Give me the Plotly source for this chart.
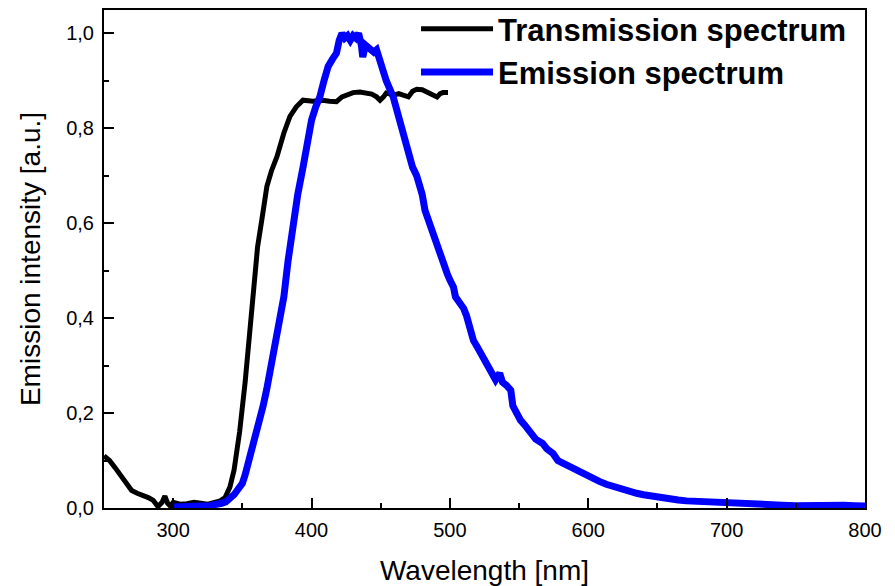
import plotly.graph_objects as go

# Transmission spectrum (wavelength nm, value)
trans_nm = [250, 254, 258, 262, 266, 270, 274, 278, 282, 285.6, 289, 292, 294, 296, 298, 300,
            305, 310, 315, 320, 325, 330, 334, 337.5, 339, 341, 344, 348, 352, 355.5, 358, 361,
            364, 367.7, 371, 375, 380, 384.4, 389, 393.8, 401, 408, 413, 418, 422, 425, 430,
            435, 440, 443.5, 447, 449.5, 452, 454, 457, 460, 463, 466, 470, 473, 476, 480, 483,
            487, 490.7, 493, 495, 498.6]
trans_val = [0.11, 0.10, 0.085, 0.068, 0.052, 0.037, 0.031, 0.027, 0.022, 0.016, 0.003, 0.012,
             0.025, 0.010, 0.004, 0.012, 0.008, 0.009, 0.012, 0.010, 0.008, 0.012, 0.015, 0.022,
             0.030, 0.044, 0.080, 0.160, 0.265, 0.370, 0.470, 0.550, 0.606, 0.677, 0.710, 0.740,
             0.790, 0.825, 0.845, 0.859, 0.857, 0.859, 0.857, 0.856, 0.866, 0.870, 0.875, 0.876,
             0.874, 0.872, 0.866, 0.859, 0.866, 0.874, 0.872, 0.870, 0.873, 0.870, 0.866, 0.878,
             0.882, 0.881, 0.877, 0.871, 0.866, 0.873, 0.875, 0.875]

# Emission spectrum (wavelength nm, value)
emis_nm = [300, 305, 310, 315, 320, 325, 330, 335, 338, 341, 344, 347, 350, 352, 354.7, 357,
           360, 362.7, 365, 367.6, 370, 373.6, 376, 378.4, 380, 383, 386.9, 390, 394, 397, 400,
           403, 406, 409, 412, 415, 418, 420, 422, 424, 426, 428, 430, 432, 434, 436, 437, 439,
           441, 443, 445, 447, 449.5, 454, 459, 464, 467, 470, 473, 476, 478, 480, 482, 485, 488,
           490, 493, 495, 498, 500, 502.6, 504, 507, 510, 512, 515, 517, 520, 524, 527, 531, 533,
           536, 538, 541, 544, 545.5, 548, 551, 554, 558, 562, 567, 570, 574.5, 578, 582, 586,
           590, 594, 598, 603.5, 608, 613, 618, 623, 628, 635, 640, 647, 653, 659, 665, 671, 677,
           683, 690, 697, 707, 714, 720, 731, 740, 750, 760, 767, 775, 785, 792, 800]
emis_val = [0.002, 0.003, 0.004, 0.006, 0.004, 0.004, 0.006, 0.010, 0.013, 0.020, 0.028, 0.040,
            0.052, 0.070, 0.100, 0.130, 0.155, 0.180, 0.215, 0.250, 0.290, 0.330, 0.370, 0.420,
            0.445, 0.520, 0.613, 0.660, 0.720, 0.770, 0.817, 0.845, 0.866, 0.900, 0.930, 0.945,
            0.958, 0.985, 1.000, 0.990, 0.995, 0.985, 0.995, 0.990, 1.000, 0.975, 0.950, 0.975,
            0.970, 0.965, 0.960, 0.965, 0.937, 0.900, 0.866, 0.810, 0.780, 0.754, 0.718, 0.700,
            0.684, 0.660, 0.627, 0.600, 0.578, 0.560, 0.536, 0.515, 0.494, 0.480, 0.465, 0.445,
            0.434, 0.420, 0.405, 0.375, 0.353, 0.338, 0.318, 0.300, 0.276, 0.270, 0.284, 0.265,
            0.258, 0.248, 0.215, 0.200, 0.185, 0.175, 0.157, 0.145, 0.136, 0.125, 0.115, 0.100,
            0.094, 0.088, 0.080, 0.076, 0.068, 0.062, 0.056, 0.050, 0.045, 0.041, 0.036, 0.031,
            0.028, 0.024, 0.022, 0.020, 0.017, 0.015, 0.014, 0.013, 0.011, 0.011, 0.0098, 0.009,
            0.007, 0.006, 0.006, 0.005, 0.006, 0.006, 0.005, 0.006, 0.005, 0.004]

x_ticks = [300, 400, 500, 600, 700, 800]
y_ticks = [0.0, 0.2, 0.4, 0.6, 0.8, 1.0]

FONT = "Liberation Sans, Arial, sans-serif"

fig = go.Figure()
fig.add_trace(go.Scatter(x=trans_nm, y=trans_val, mode="lines", name="Transmission spectrum",
                         line=dict(color="black", width=5)))
fig.add_trace(go.Scatter(x=emis_nm, y=emis_val, mode="lines", name="Emission spectrum",
                         line=dict(color="#0000ff", width=7)))

axis_common = dict(showline=True, linecolor="black", linewidth=2, mirror=True,
                   ticks="inside", ticklen=10, tickwidth=2, tickcolor="black",
                   showgrid=False, zeroline=False,
                   tickfont=dict(family=FONT, size=20, color="black"))

fig.update_xaxes(range=[250, 800], tickvals=x_ticks, ticklabelstandoff=3,
                 minor=dict(ticks="inside", ticklen=5, tickwidth=2, tickcolor="black", dtick=50, tick0=0),
                 title=dict(text="Wavelength [nm]", font=dict(family=FONT, size=28, color="black"), standoff=20),
                 **axis_common)
fig.update_yaxes(range=[0, 1.049], tickvals=y_ticks, tickformat=".1f", ticklabelstandoff=4,
                 minor=dict(ticks="inside", ticklen=5, tickwidth=2, tickcolor="black", dtick=0.1, tick0=0),
                 title=dict(text="Emission intensity [a.u.]", font=dict(family=FONT, size=28, color="black"), standoff=17),
                 **axis_common)

fig.update_layout(
    width=887, height=578,
    margin=dict(l=96, r=30, t=2, b=78, autoexpand=False),
    plot_bgcolor="white", paper_bgcolor="white",
    separators=",.",
    showlegend=True,
    legend=dict(x=0.41, y=1.016, xanchor="left", yanchor="top", bgcolor="rgba(0,0,0,0)",
                font=dict(family=FONT, size=31, color="black", weight="bold"),
                itemwidth=72, tracegroupgap=0),
)

fig.write_html("out.html")
